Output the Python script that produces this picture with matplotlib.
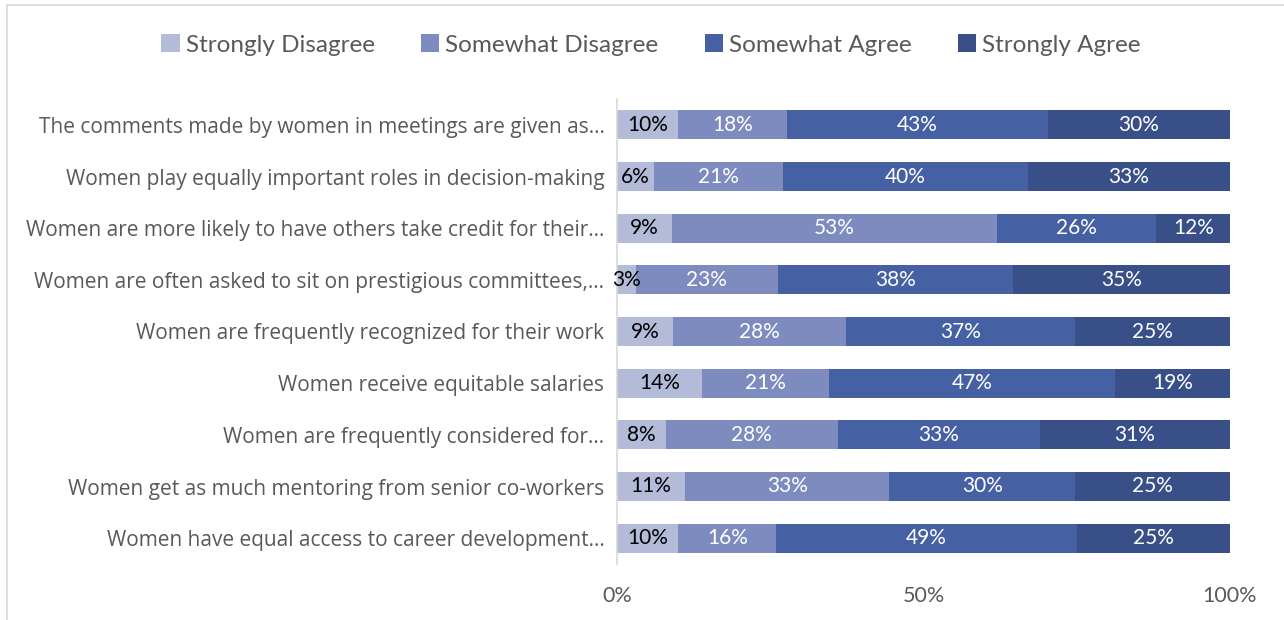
import matplotlib
matplotlib.use("Agg")
import matplotlib.pyplot as plt
from matplotlib.patches import Rectangle
import numpy as np

categories = [
    "The comments made by women in meetings are given as...",
    "Women play equally important roles in decision-making",
    "Women are more likely to have others take credit for their...",
    "Women are often asked to sit on prestigious committees,...",
    "Women are frequently recognized for their work",
    "Women receive equitable salaries",
    "Women are frequently considered for...",
    "Women get as much mentoring from senior co-workers",
    "Women have equal access to career development...",
]
series_names = ["Strongly Disagree", "Somewhat Disagree", "Somewhat Agree", "Strongly Agree"]
strongly_disagree = [10, 6, 9, 3, 9, 14, 8, 11, 10]
somewhat_disagree = [18, 21, 53, 23, 28, 21, 28, 33, 16]
somewhat_agree = [43, 40, 26, 38, 37, 47, 33, 30, 49]
strongly_agree = [30, 33, 12, 35, 25, 19, 31, 25, 25]
x_ticks = [0, 50, 100]
x_tick_labels = ["0%", "50%", "100%"]

colors = ["#B4BBD9", "#7E8BBF", "#4660A4", "#384F88"]
label_colors = ["#000000", "#FFFFFF", "#FFFFFF", "#FFFFFF"]
text_gray = "#595959"
font_main = "Open Sans"
font_narrow = "Lato"

W, H = 1284, 620
fig = plt.figure(figsize=(W / 100, H / 100), dpi=100)
fig.patch.set_facecolor("white")

# chart frame
fig.add_artist(Rectangle((7 / W, -0.05), 1.1, 1 - 5 / H + 0.05, transform=fig.transFigure,
                         fill=False, edgecolor="#D9D9D9", linewidth=1.2))

ax = fig.add_axes([617 / W, 1 - 564 / H, (1230 - 617) / W, (564 - 99) / H])

data = np.array([strongly_disagree, somewhat_disagree, somewhat_agree, strongly_agree], dtype=float)
totals = data.sum(axis=0)
shares = data / totals * 100
y = np.arange(len(categories))
left = np.zeros(len(categories))
for i, name in enumerate(series_names):
    bars = ax.barh(y, shares[i], left=left, height=0.56, color=colors[i], label=name,
                   linewidth=0.0)
    for j, b in enumerate(bars):
        cx = left[j] + shares[i][j] / 2
        ax.text(cx, y[j], f"{int(data[i][j])}%", ha="center", va="center",
                color=label_colors[i], fontsize=15, family=font_narrow)
    left += shares[i]

ax.set_xlim(0, 100)
ax.set_ylim(len(categories) - 0.5, -0.5)
ax.set_yticks(y)
ax.set_yticklabels(categories, fontsize=15, color=text_gray, family=font_main)
ax.set_xticks(x_ticks)
ax.set_xticklabels(x_tick_labels, fontsize=15.5, color=text_gray, family=font_narrow)
ax.tick_params(axis="both", length=0)
ax.tick_params(axis="y", pad=9)
ax.tick_params(axis="x", pad=16)
for s in ["top", "right", "bottom"]:
    ax.spines[s].set_visible(False)
ax.spines["left"].set_color("#D9D9D9")
ax.spines["left"].set_linewidth(1.2)

leg = fig.legend(loc="center", bbox_to_anchor=(651 / W, 1 - 45 / H), ncol=4, frameon=False,
                 prop={"family": font_narrow, "size": 17.5}, handlelength=0.75, handleheight=0.75,
                 handletextpad=0.25, columnspacing=1.9)
for t in leg.get_texts():
    t.set_color(text_gray)

fig.savefig("out.png", dpi=100, facecolor="white")
